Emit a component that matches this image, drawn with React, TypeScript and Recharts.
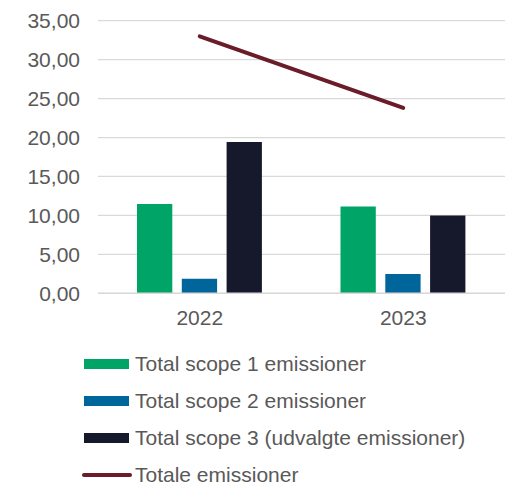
import {
  ComposedChart,
  Bar,
  Line,
  XAxis,
  YAxis,
  CartesianGrid
} from "recharts"

const years = ["2022", "2023"]
const scope1 = [11.45, 11.15]
const scope2 = [1.87, 2.47]
const scope3 = [19.44, 10.0]
const totals = [32.99, 23.8]
const yTicks = [0, 5, 10, 15, 20, 25, 30, 35]

const seriesNames = [
  "Total scope 1 emissioner",
  "Total scope 2 emissioner",
  "Total scope 3 (udvalgte emissioner)",
  "Totale emissioner"
]
const seriesColors = ["#00a466", "#00659b", "#16182c", "#6b1c29"]

const data = years.map((year, i) => ({
  year,
  s1: scope1[i],
  s2: scope2[i],
  s3: scope3[i],
  total: totals[i]
}))

const FONT = '"Liberation Sans", Arial, sans-serif'
const TEXT = "#595959"
const GRID = "#d9d9d9"
const FS = 21

const fmt = (v: number) => v.toFixed(2).replace(".", ",")

function LegendList() {
  const rowCenters = [364, 401, 438, 475]
  return (
    <>
      {seriesNames.map((name, i) => {
        const isLine = i === 3
        return (
          <div
            key={name}
            style={{
              position: "absolute",
              left: 0,
              top: rowCenters[i] - 12,
              height: 24,
              width: 509,
              fontFamily: FONT,
              fontSize: FS,
              color: TEXT,
              lineHeight: "24px"
            }}
          >
            <div
              style={{
                position: "absolute",
                left: isLine ? 82 : 84,
                top: isLine ? 10 : 7,
                width: isLine ? 50 : 45,
                height: isLine ? 4 : 10,
                borderRadius: isLine ? 2 : 0,
                background: seriesColors[i]
              }}
            />
            <span style={{ position: "absolute", left: 135, top: 0, whiteSpace: "nowrap" }}>
              {name}
            </span>
          </div>
        )
      })}
    </>
  )
}

export default function App() {
  return (
    <div
      style={{
        position: "absolute",
        left: 0,
        top: 0,
        width: 509,
        height: 485,
        background: "#fff",
        overflow: "hidden"
      }}
    >
      <ComposedChart
        width={509}
        height={340}
        data={data}
        margin={{ top: 20.7, right: 4, left: 0, bottom: 16.7 }}
        barSize={35.3}
        barGap={9.5}
      >
        <CartesianGrid vertical={false} stroke={GRID} strokeWidth={1.3} />
        <XAxis
          dataKey="year"
          height={30}
          tickLine={false}
          tickSize={0}
          tickMargin={17.2}
          axisLine={{ stroke: GRID, strokeWidth: 1.5 }}
          tick={{ fontSize: FS, fill: TEXT, fontFamily: FONT }}
        />
        <YAxis
          width={98}
          domain={[0, 35]}
          ticks={yTicks}
          interval={0}
          tickFormatter={fmt}
          tickLine={false}
          axisLine={false}
          tickSize={0}
          tickMargin={18}
          tick={{ fontSize: FS, fill: TEXT, fontFamily: FONT }}
        />
        <Bar dataKey="s1" name={seriesNames[0]} fill={seriesColors[0]} isAnimationActive={false} />
        <Bar dataKey="s2" name={seriesNames[1]} fill={seriesColors[1]} isAnimationActive={false} />
        <Bar dataKey="s3" name={seriesNames[2]} fill={seriesColors[2]} isAnimationActive={false} />
        <Line
          type="linear"
          dataKey="total"
          name={seriesNames[3]}
          stroke={seriesColors[3]}
          strokeWidth={4}
          strokeLinecap="round"
          dot={false}
          activeDot={false}
          isAnimationActive={false}
        />
      </ComposedChart>
      <LegendList />
    </div>
  )
}
